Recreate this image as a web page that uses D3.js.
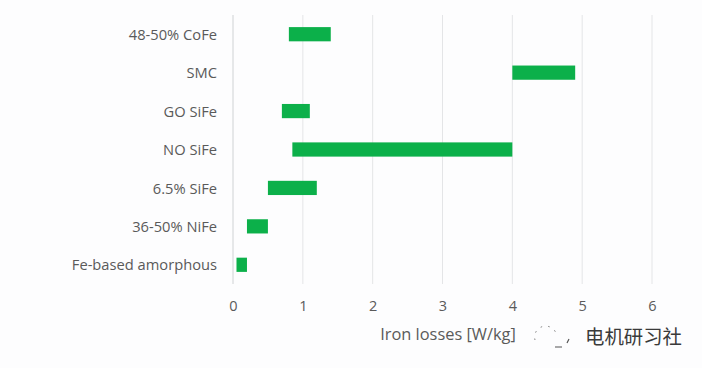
<!DOCTYPE html>
<html>
<head>
<meta charset="utf-8">
<script src="https://cdn.jsdelivr.net/npm/d3@7"></script>
<style>
body { margin: 0; background: #fdfdfe; }
text { font-family: "Open Sans", sans-serif; }
</style>
</head>
<body>
<svg id="chart" width="702" height="368"></svg>
<script>
const categories = ["48-50% CoFe", "SMC", "GO SiFe", "NO SiFe", "6.5% SiFe", "36-50% NiFe", "Fe-based amorphous"];
const lowValues = [0.8, 4.0, 0.7, 0.85, 0.5, 0.2, 0.05];
const highValues = [1.4, 4.9, 1.1, 4.0, 1.2, 0.5, 0.2];
const xTicks = [0, 1, 2, 3, 4, 5, 6];
const xLabel = "Iron losses [W/kg]";
const watermark = "电机研习社";

const svg = d3.select("#chart");
const margin = { top: 15, right: 50, bottom: 84, left: 233 };
const width = +svg.attr("width") - margin.left - margin.right;
const height = +svg.attr("height") - margin.top - margin.bottom;

const g = svg.append("g").attr("transform", `translate(${margin.left},${margin.top})`);

const x = d3.scaleLinear().domain([0, 6]).range([0, width]);
const y = d3.scaleBand().domain(categories).range([0, height]).paddingInner(0.63).paddingOuter(0.315);

// gridlines
g.selectAll(".grid")
    .data(xTicks)
    .enter()
    .append("line")
    .attr("class", "grid")
    .attr("x1", d => x(d))
    .attr("x2", d => x(d))
    .attr("y1", 0)
    .attr("y2", height)
    .attr("stroke", d => d === 0 ? "#cfd2d4" : "#e4e5e7")
    .attr("stroke-width", 1);

// floating bars
g.selectAll(".bar")
    .data(categories)
    .enter()
    .append("rect")
    .attr("class", "bar")
    .attr("x", (d, i) => x(lowValues[i]))
    .attr("y", d => y(d))
    .attr("width", (d, i) => x(highValues[i]) - x(lowValues[i]))
    .attr("height", y.bandwidth())
    .attr("fill", "#0cb04a");

const yAxis = g.append("g").call(d3.axisLeft(y).tickSize(0).tickPadding(16));
yAxis.select(".domain").remove();
yAxis.selectAll("text")
    .attr("font-size", 14.7)
    .attr("dy", "0.38em")
    .attr("fill", "#5a5a5a")
    .style("font-family", '"Open Sans", sans-serif');

const xAxis = g.append("g")
    .attr("transform", `translate(0,${height})`)
    .call(d3.axisBottom(x).tickValues(xTicks).tickFormat(d3.format("d")).tickSize(0).tickPadding(17));
xAxis.select(".domain").remove();
xAxis.selectAll("text")
    .attr("font-size", 14.5)
    .attr("fill", "#5a5a5a")
    .style("font-family", '"Open Sans", sans-serif');

svg.append("text")
    .attr("x", 448)
    .attr("y", 340)
    .attr("text-anchor", "middle")
    .attr("font-size", 16.4)
    .attr("fill", "#5a5a5a")
    .text(xLabel);

// watermark
const icon = svg.append("g").attr("transform", "translate(550,337)")
    .attr("fill", "none").attr("stroke", "#777").attr("stroke-width", 1);
icon.append("path").attr("d", "M-15,3 A11,11 0 0 1 0,-10 A9,9 0 0 1 6,-3").attr("stroke-dasharray", "1.5 6");
icon.append("path").attr("d", "M5,10 L12,10 M19,2 L17,6").attr("stroke", "#555").attr("stroke-width", 1.2);

svg.append("text")
    .attr("x", 585)
    .attr("y", 344)
    .attr("font-size", 19.4)
    .attr("fill", "#3a3a3a")
    .style("font-family", '"Noto Sans CJK SC", sans-serif')
    .text(watermark);
</script>
</body>
</html>
